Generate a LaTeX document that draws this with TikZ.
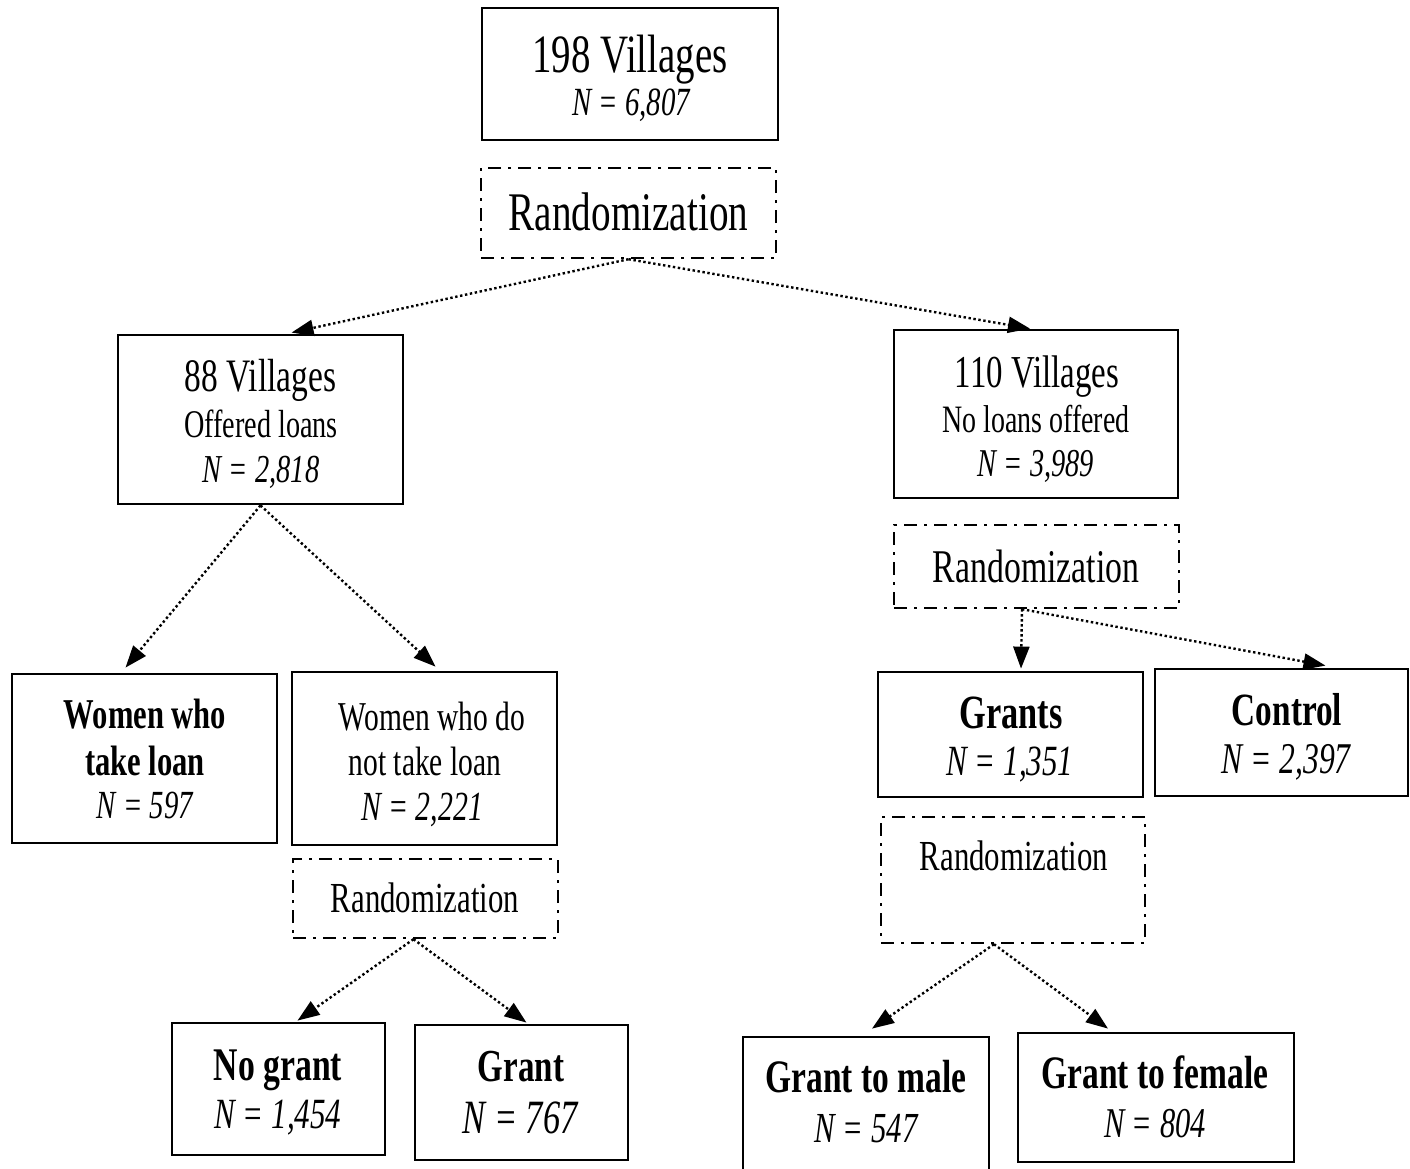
\documentclass[tikz,border=0pt]{standalone}
\usepackage{fontspec}
\setmainfont[FakeStretch=0.72]{Liberation Serif}
\usetikzlibrary{arrows.meta,calc}
\newcommand\fsz[1]{\fontsize{#1pt}{#1pt}\selectfont}
\tikzset{
  sbox/.style={draw, line width=2.8pt, inner sep=0pt},
  rbox/.style={draw, line width=2.4pt, dash pattern=on 13pt off 7pt on 3pt off 7pt, inner sep=0pt},
  txt/.style={anchor=base, inner sep=0pt},
  arr/.style={line width=2.4pt, dash pattern=on 2.4pt off 2.6pt, -{Triangle[length=22pt,width=16pt]}}
}
\begin{document}
\begin{tikzpicture}[x=1pt,y=-1pt]
\useasboundingbox (0,0) rectangle (1410,1168);
\fill[white] (0,0) rectangle (1410,1168);
\clip (0,0) rectangle (1410,1168);

% boxes
\node[sbox, minimum width=296pt, minimum height=132pt] (top) at (630,74) {};
\node[rbox, minimum width=295pt, minimum height=90pt] (r1) at (628.5,213) {};
\node[sbox, minimum width=285pt, minimum height=169pt] (v88) at (260.5,419.5) {};
\node[sbox, minimum width=284pt, minimum height=168pt] (v110) at (1036,414) {};
\node[rbox, minimum width=285pt, minimum height=83pt] (r2) at (1036.5,566.5) {};
\node[sbox, minimum width=265pt, minimum height=169pt] (wt) at (144.5,758.5) {};
\node[sbox, minimum width=265pt, minimum height=173pt] (wn) at (424.5,758.5) {};
\node[rbox, minimum width=265pt, minimum height=79pt] (r3) at (425.5,898.5) {};
\node[sbox, minimum width=213pt, minimum height=132pt] (ng) at (278.5,1089) {};
\node[sbox, minimum width=213pt, minimum height=135pt] (gr) at (521.5,1092.5) {};
\node[sbox, minimum width=265pt, minimum height=125pt] (grants) at (1010.5,734.5) {};
\node[sbox, minimum width=253pt, minimum height=127pt] (ctrl) at (1281.5,732.5) {};
\node[rbox, minimum width=264pt, minimum height=126pt] (r4) at (1013,880) {};
\node[sbox, minimum width=246pt, minimum height=163pt] (gm) at (866,1118.5) {};
\node[sbox, minimum width=276pt, minimum height=129pt] (gf) at (1156,1097.5) {};

% texts
\node[txt] (topA) at (630,72) {\fsz{54}198 Villages};
\node[txt] (topB) at (631,115) {\fsz{40}\itshape N = 6,807};
\node[txt] (r1A) at (628.5,230) {\fsz{54.4}Randomization};
\node[txt] (v88A) at (260.5,391) {\fsz{46.5}88 Villages};
\node[txt] (v88B) at (261,437) {\fsz{39.2}Offered loans};
\node[txt] (v88C) at (261,482) {\fsz{39.6}\itshape N = 2,818};
\node[txt] (v110A) at (1037,387) {\fsz{45.7}110 Villages};
\node[txt] (v110B) at (1036,432) {\fsz{38.8}No loans offered};
\node[txt] (v110C) at (1036,476) {\fsz{39.4}\itshape N = 3,989};
\node[txt] (r2A) at (1036,582) {\fsz{46.9}Randomization};
\node[txt] (wtA) at (145,728) {\fsz{42.5}\bfseries Women who};
\node[txt] (wtB) at (145,775) {\fsz{42.5}\bfseries take loan};
\node[txt] (wtC) at (145,818) {\fsz{39.9}\itshape N = 597};
\node[txt] (wnA) at (432,730) {\fsz{41}Women who do};
\node[txt] (wnB) at (425,775) {\fsz{41}not take loan};
\node[txt] (wnC) at (422,820) {\fsz{41.4}\itshape N = 2,221};
\node[txt] (r3A) at (425,912) {\fsz{42.8}Randomization};
\node[txt] (ngA) at (278,1080) {\fsz{46.8}\bfseries No grant};
\node[txt] (ngB) at (278,1128) {\fsz{43.1}\itshape N = 1,454};
\node[txt] (grA) at (521,1081) {\fsz{45.8}\bfseries Grant};
\node[txt] (grB) at (520,1133) {\fsz{47.8}\itshape N = 767};
\node[txt] (grantsA) at (1011,728) {\fsz{47.7}\bfseries Grants};
\node[txt] (grantsB) at (1010,775) {\fsz{43.1}\itshape N = 1,351};
\node[txt] (ctrlA) at (1287,725) {\fsz{46.2}\bfseries Control};
\node[txt] (ctrlB) at (1286,773) {\fsz{43.9}\itshape N = 2,397};
\node[txt] (r4A) at (1014,870) {\fsz{42.8}Randomization};
\node[txt] (gmA) at (866,1092) {\fsz{46.5}\bfseries Grant to male};
\node[txt] (gmB) at (866,1142) {\fsz{42.8}\itshape N = 547};
\node[txt] (gfA) at (1155,1088) {\fsz{46.5}\bfseries Grant to female};
\node[txt] (gfB) at (1155,1137) {\fsz{42.4}\itshape N = 804};

% connectors
\draw[arr] (r1.south) -- ([xshift=31pt,yshift=1pt]v88.north);
\draw[arr] (r1.south) -- ([xshift=-6pt]v110.north);
\draw[arr] (v88.south) -- ([xshift=-19pt,yshift=5pt]wt.north);
\draw[arr] (v88.south) -- ([xshift=11pt,yshift=4pt]wn.north);
\draw[arr] ([xshift=-14.5pt]r2.south) -- ([xshift=10.5pt,yshift=2pt]grants.north);
\draw[arr] ([xshift=-14.5pt]r2.south) -- ([xshift=44pt,yshift=2pt]ctrl.north);
\draw[arr] ([xshift=-12pt]r3.south) -- ([xshift=19pt,yshift=1pt]ng.north);
\draw[arr] ([xshift=-12pt]r3.south) -- ([xshift=5pt,yshift=1pt]gr.north);
\draw[arr] ([xshift=-19pt]r4.south) -- ([xshift=6pt,yshift=7pt]gm.north);
\draw[arr] ([xshift=-19pt]r4.south) -- ([xshift=-48pt,yshift=3pt]gf.north);
\end{tikzpicture}
\end{document}
